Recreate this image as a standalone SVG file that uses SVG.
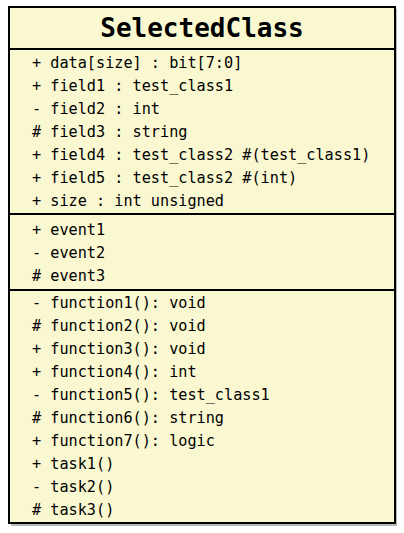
<svg xmlns="http://www.w3.org/2000/svg" width="404" height="533" viewBox="0 0 404 533">
<style>
.box{fill:#FAF8D0;stroke:#000;stroke-width:2}
.sep{stroke:#000;stroke-width:2}
.t{font-family:"DejaVu Sans Mono","Liberation Mono",monospace;font-size:15.2px;fill:#000}
.title{font-family:"DejaVu Sans Mono","Liberation Mono",monospace;font-size:26px;font-weight:bold;fill:#000}
</style>
<g id="SelectedClass">
<rect x="11" y="9" width="386" height="517" fill="#888" opacity="0.6"/>
<rect class="box" x="9" y="7" width="386" height="516"/>
<text class="title" x="202" y="37" text-anchor="middle">SelectedClass</text>
<line class="sep" x1="9" y1="49" x2="395" y2="49"/>
<line class="sep" x1="9" y1="214" x2="395" y2="214"/>
<line class="sep" x1="9" y1="290" x2="395" y2="290"/>
<g class="t" xml:space="preserve">
<text x="32" y="68">+ data[size] : bit[7:0]</text>
<text x="32" y="91">+ field1 : test_class1</text>
<text x="32" y="114">- field2 : int</text>
<text x="32" y="137"># field3 : string</text>
<text x="32" y="160">+ field4 : test_class2 #(test_class1)</text>
<text x="32" y="183">+ field5 : test_class2 #(int)</text>
<text x="32" y="206">+ size : int unsigned</text>
<text x="32" y="235">+ event1</text>
<text x="32" y="258">- event2</text>
<text x="32" y="281"># event3</text>
<text x="32" y="308">- function1(): void</text>
<text x="32" y="331"># function2(): void</text>
<text x="32" y="354">+ function3(): void</text>
<text x="32" y="377">+ function4(): int</text>
<text x="32" y="400">- function5(): test_class1</text>
<text x="32" y="423"># function6(): string</text>
<text x="32" y="446">+ function7(): logic</text>
<text x="32" y="469">+ task1()</text>
<text x="32" y="492">- task2()</text>
<text x="32" y="515"># task3()</text>
</g>
</g>
</svg>
